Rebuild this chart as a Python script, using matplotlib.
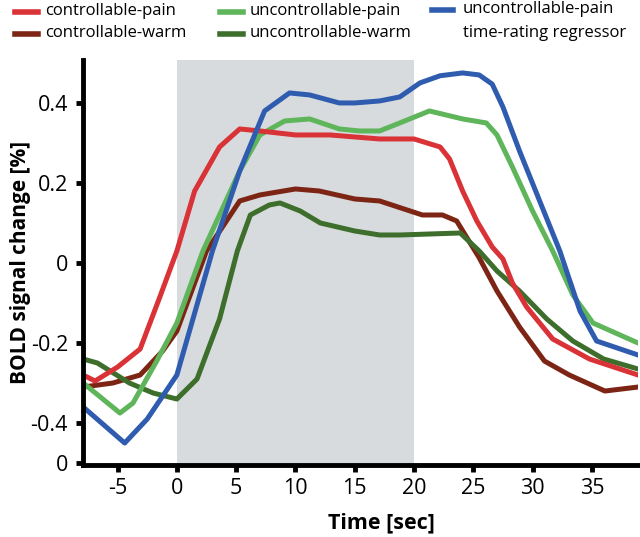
import matplotlib
matplotlib.use("Agg")
import matplotlib.pyplot as plt
from matplotlib.lines import Line2D

plt.rcParams['font.family'] = ['Open Sans', 'DejaVu Sans']

# controllable-pain
t_cp = [-7.9, -6.9, -5, -3.1, -1.5, 0, 1.5, 3.6, 5.3, 7, 10, 12.9, 15, 17.1, 20, 22.2, 23, 24.1, 25.3, 26.6, 27.5, 28.3, 29.5, 31.7, 34.8, 38.9]
v_cp = [-0.28, -0.295, -0.26, -0.215, -0.09, 0.03, 0.18, 0.29, 0.335, 0.33, 0.32, 0.32, 0.315, 0.31, 0.31, 0.29, 0.26, 0.18, 0.105, 0.04, 0.01, -0.05, -0.11, -0.19, -0.24, -0.28]

# controllable-warm
t_cw = [-7.9, -5.4, -3.1, -1.2, 0, 2.5, 5.3, 7, 10, 12, 15, 17.1, 20.7, 22.4, 23.6, 25.5, 27, 28.9, 31, 33.1, 36.1, 38.9]
v_cw = [-0.31, -0.30, -0.28, -0.22, -0.17, 0.03, 0.155, 0.17, 0.185, 0.18, 0.16, 0.155, 0.12, 0.12, 0.105, 0.013, -0.07, -0.16, -0.245, -0.28, -0.32, -0.31]

# uncontrollable-pain
t_up = [-7.9, -4.8, -3.7, -1.7, 0, 2.2, 5.3, 7, 9.1, 11.2, 13.7, 15.4, 17.1, 18.8, 21.3, 24.1, 26.1, 27, 28.3, 30, 31.7, 33.4, 35.1, 38.9]
v_up = [-0.30, -0.375, -0.35, -0.245, -0.15, 0.03, 0.23, 0.32, 0.355, 0.36, 0.335, 0.33, 0.33, 0.35, 0.38, 0.36, 0.35, 0.32, 0.24, 0.13, 0.03, -0.08, -0.15, -0.20]

# uncontrollable-warm
t_uw = [-7.9, -6.7, -4, -2, 0, 1.7, 3.6, 5.1, 6.2, 7.8, 8.7, 10.4, 12.1, 15, 17.1, 18.8, 23.9, 25.5, 27, 28.9, 31.2, 33.4, 36, 38.9]
v_uw = [-0.24, -0.25, -0.30, -0.325, -0.34, -0.29, -0.14, 0.03, 0.12, 0.145, 0.15, 0.13, 0.10, 0.08, 0.07, 0.07, 0.075, 0.03, -0.02, -0.07, -0.14, -0.195, -0.24, -0.265]

# uncontrollable-pain time-rating regressor
t_rr = [-7.9, -4.4, -2.5, 0, 3, 5.3, 7.4, 9.5, 11.2, 13.7, 15, 17.1, 18.8, 20.5, 22.2, 24.1, 25.5, 26.6, 27.5, 28.9, 30.6, 32.3, 34, 35.4, 38.9]
v_rr = [-0.36, -0.45, -0.39, -0.28, 0.03, 0.23, 0.38, 0.425, 0.42, 0.40, 0.40, 0.405, 0.415, 0.45, 0.468, 0.475, 0.47, 0.447, 0.39, 0.28, 0.155, 0.03, -0.12, -0.195, -0.23]

xticks = [-5, 0, 5, 10, 15, 20, 25, 30, 35]
yticks = [-0.5, -0.4, -0.2, 0, 0.2, 0.4]
ytick_labels = ['0', '-0.4', '-0.2', '0', '0.2', '0.4']

c_cp = '#d93237'
c_cw = '#7d2515'
c_up = '#5fb55a'
c_uw = '#3d6e2c'
c_rr = '#2f5caf'

fig = plt.figure(figsize=(6.4, 5.37), dpi=100)
ax = fig.add_axes([0.13, 0.134, 0.867, 0.754])

ax.axvspan(0, 20, color='#d7dbdd', lw=0, zorder=0)

lw = 3.6
ax.plot(t_cw, v_cw, color=c_cw, lw=lw, solid_capstyle='round')
ax.plot(t_uw, v_uw, color=c_uw, lw=lw, solid_capstyle='round')
ax.plot(t_up, v_up, color=c_up, lw=lw, solid_capstyle='round')
ax.plot(t_cp, v_cp, color=c_cp, lw=lw, solid_capstyle='round')
ax.plot(t_rr, v_rr, color=c_rr, lw=lw, solid_capstyle='round')

ax.set_xlim(-7.9, 38.9)
ax.set_ylim(-0.505, 0.507)
ax.set_xticks(xticks)
ax.set_xticklabels([str(x) for x in xticks])
ax.set_yticks(yticks)
ax.set_yticklabels(ytick_labels)

for s in ['top', 'right']:
    ax.spines[s].set_visible(False)
for s in ['left', 'bottom']:
    ax.spines[s].set_linewidth(3.5)
ax.tick_params(width=3.5, length=5, labelsize=15.5)
ax.tick_params(axis='y', pad=6)
ax.tick_params(axis='x', pad=4)

ax.set_xlabel('Time [sec]', fontsize=15.5, fontweight='bold')
ax.xaxis.set_label_coords(0.537, -0.118)
ax.set_ylabel('BOLD signal change [%]', fontsize=15, fontweight='bold', labelpad=0)

# legend drawn by hand in figure pixels
W, H = 640, 537
handles = [
    (15, 38, 12, c_cp), (15, 38, 34, c_cw),
    (220, 243, 12, c_up), (220, 243, 34, c_uw),
    (432, 453, 10, c_rr),
]
labels = [
    (45, 11, 'controllable-pain'), (45, 33, 'controllable-warm'),
    (250, 11, 'uncontrollable-pain'), (250, 33, 'uncontrollable-warm'),
    (463, 9, 'uncontrollable-pain'), (463, 33, 'time-rating regressor'),
]
for x0, x1, y, c in handles:
    fig.add_artist(Line2D([x0 / W, x1 / W], [1 - y / H, 1 - y / H], color=c, lw=4))
for x, y, label in labels:
    fig.text(x / W, 1 - y / H, label, fontsize=12, va='center')

fig.savefig('out.png', dpi=100)
